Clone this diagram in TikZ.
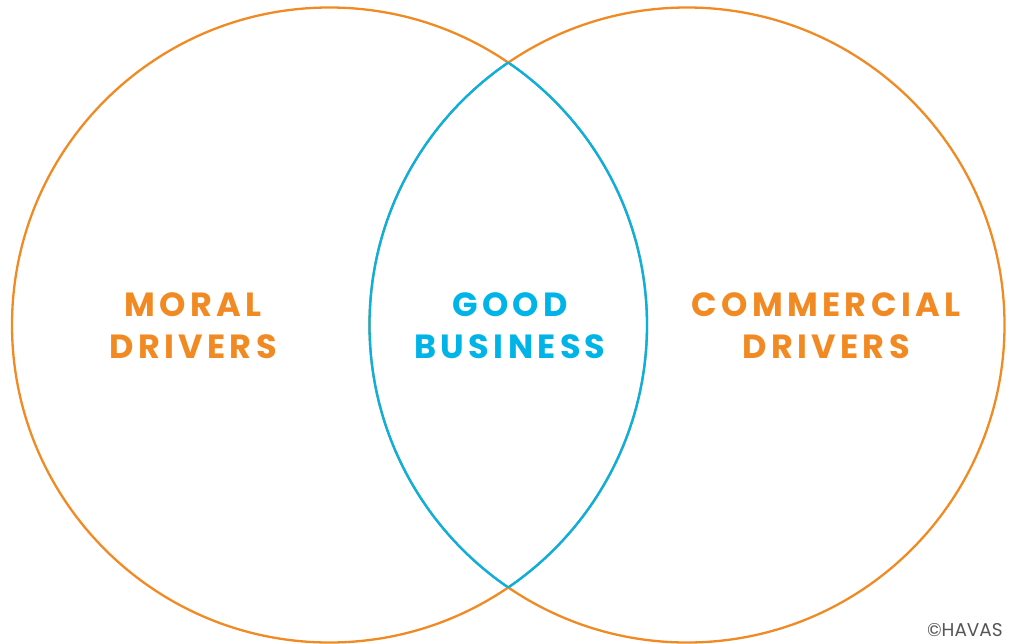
\documentclass[tikz,border=0pt]{standalone}
\usepackage{fontspec}
\newfontfamily\labelfont[LetterSpace=13]{Poppins}
\newfontfamily\markfont{Poppins}
\definecolor{havasorange}{HTML}{F28A24}
\definecolor{havasblue}{HTML}{00B4E8}
\definecolor{markgray}{HTML}{555555}
\begin{document}
\begin{tikzpicture}[x=1pt,y=-1pt,
  ring/.style={line width=2.3pt},
  lbl/.style={anchor=base,inner sep=0pt,font=\labelfont\bfseries\fontsize{33.5}{33.5}\selectfont}]
\useasboundingbox (0,0) rectangle (1014,643);
\coordinate (cl) at (329.5,325);
\coordinate (cr) at (687,325);
\draw[ring,havasorange] (cl) circle[radius=317.5];
\draw[ring,havasorange] (cr) circle[radius=317.5];
\begin{scope}
  \clip (cr) circle[radius=317.5];
  \draw[ring,havasblue] (cl) circle[radius=317.5];
\end{scope}
\begin{scope}
  \clip (cl) circle[radius=317.5];
  \draw[ring,havasblue] (cr) circle[radius=317.5];
\end{scope}
\node[lbl,text=havasorange] (m1) at (193,316) {MORAL};
\node[lbl,text=havasorange] (m2) at (193,358) {DRIVERS};
\node[lbl,text=havasblue] (g1) at (510,316) {GOOD};
\node[lbl,text=havasblue] (g2) at (510,358) {BUSINESS};
\node[lbl,text=havasorange] (c1) at (826,316) {COMMERCIAL};
\node[lbl,text=havasorange] (c2) at (826,358) {DRIVERS};
\node[anchor=base east,inner sep=0pt,text=markgray,font=\markfont\fontsize{18.5}{18.5}\selectfont] (cp) at (1003,636) {©HAVAS};
\end{tikzpicture}
\end{document}
